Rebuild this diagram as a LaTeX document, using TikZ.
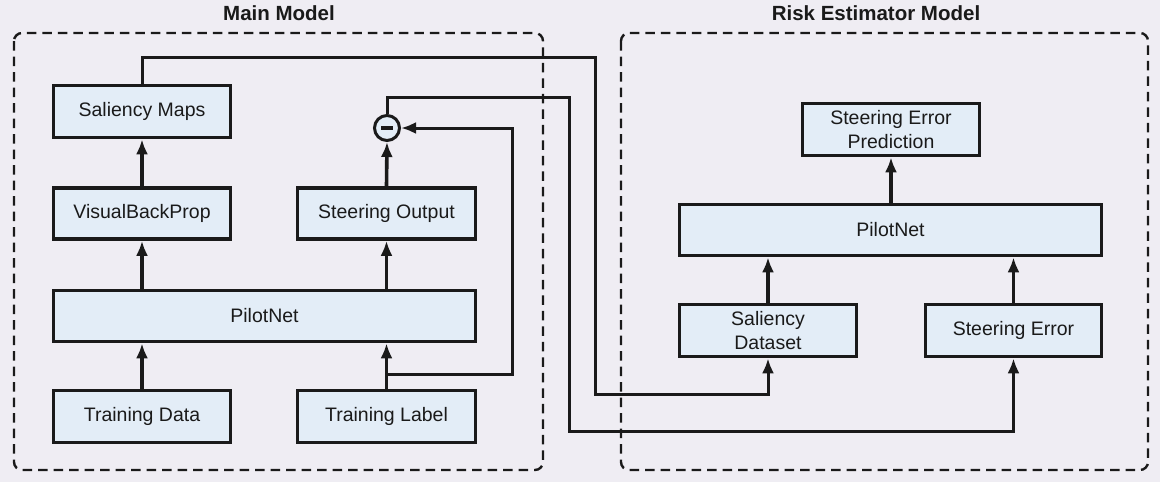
\documentclass[tikz,border=0pt]{standalone}
\usepackage{fontspec}
\setmainfont{Liberation Sans}
\usetikzlibrary{arrows.meta}
\definecolor{bg}{HTML}{EFEDF3}
\definecolor{boxfill}{HTML}{E3EDF7}
\definecolor{ink}{HTML}{1A1A1A}
\tikzset{
  blk/.style={draw=ink, line width=3.6pt, fill=boxfill, inner sep=2pt, align=center,
    font=\fontsize{19.5}{24}\selectfont, text=ink},
  arr/.style={draw=ink, line width=3.6pt, -{Latex[length=15pt,width=12pt]}},
  warr/.style={draw=ink, line width=3pt, -{Latex[length=15pt,width=12pt]}},
  group/.style={draw=ink, line width=2.4pt, dash pattern=on 9.5pt off 6pt, rounded corners=8pt},
  ttl/.style={font=\bfseries\fontsize{20.5}{24}\selectfont, text=ink},
}
\begin{document}
\begin{tikzpicture}[x=1pt,y=-1pt]
\fill[bg] (0,0) rectangle (1160,482);
\useasboundingbox (0,0) rectangle (1160,482);
% group frames
\draw[group] (14,33) rectangle (543,470);
\draw[group] (621,33) rectangle (1148,470);
\node[ttl] (t1) at (279,13) {Main Model};
\node[ttl] (t2) at (876,13) {Risk Estimator Model};
% main model
\node[blk, minimum width=177, minimum height=52] (sal) at (142,111.5) {Saliency Maps};
\node[blk, minimum width=177, minimum height=51] (vbp) at (142,213.5) {VisualBackProp};
\node[blk, minimum width=178, minimum height=51] (so) at (386.5,213.5) {Steering Output};
\node[blk, minimum width=422, minimum height=51] (pn) at (264.5,316) {PilotNet};
\node[blk, minimum width=177, minimum height=52] (td) at (142,416.5) {Training Data};
\node[blk, minimum width=178, minimum height=52] (tl) at (386.5,416.5) {Training Label};
\node[draw=ink, line width=3pt, fill=boxfill, circle, minimum size=25pt, inner sep=0pt] (minus) at (387,128) {};
\fill[ink] ([xshift=-6pt,yshift=-2pt]minus.center) rectangle ([xshift=6pt,yshift=2pt]minus.center);
% risk model
\node[blk, minimum width=177, minimum height=52] (sep) at (891,129.5) {Steering Error\\Prediction};
\node[blk, minimum width=422, minimum height=51] (pn2) at (890.5,230) {PilotNet};
\node[blk, minimum width=177, minimum height=52] (sd) at (768,330.5) {Saliency\\Dataset};
\node[blk, minimum width=176, minimum height=52] (se) at (1013.5,330.5) {Steering Error};
% main arrows
\draw[arr] (td.north) -- (td.north |- pn.south);
\draw[arr] (tl.north) -- (tl.north |- pn.south);
\draw[arr] (pn.north -| vbp) -- (vbp.south);
\draw[arr] (pn.north -| so) -- (so.south);
\draw[arr] (vbp.north) -- (sal.south);
\draw[arr] (so.north) -- (minus.south);
% feedback of label
\coordinate (br) at (387,374);
\draw[warr] (br) -- (512,374) -- (512,128) -- (minus.east);
% risk arrows
\draw[arr] (sd.north) -- (sd.north |- pn2.south);
\draw[arr] (se.north) -- (se.north |- pn2.south);
\draw[arr] (pn2.north -| sep) -- (sep.south);
% long connectors
\draw[warr] (sal.north) -- (sal.north |- 0,57) -- (595,57) -- (595,394) -- (sd.south |- 0,394) -- (sd.south);
\draw[warr] (minus.north) -- (minus.north |- 0,97) -- (569,97) -- (569,431) -- (se.south |- 0,431) -- (se.south);
\end{tikzpicture}
\end{document}
